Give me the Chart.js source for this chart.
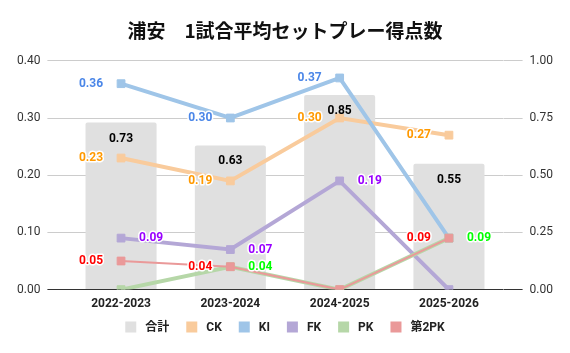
<!DOCTYPE html>
<html>
<head>
<meta charset="utf-8">
<script src="https://cdn.jsdelivr.net/npm/chart.js@4"></script>
<style>
  body { margin: 0; background: #fff; }
  #wrap { width: 570px; height: 353px; }
</style>
</head>
<body>
<div id="wrap"><canvas id="chart" width="570" height="353"></canvas></div>
<script>
const seasons = ['2022-2023', '2023-2024', '2024-2025', '2025-2026'];
const totals = [0.73, 0.63, 0.85, 0.55];
const ck = [0.23, 0.19, 0.30, 0.27];
const ki = [0.36, 0.30, 0.37, 0.09];
const fk = [0.09, 0.07, 0.19, 0.00];
const pk = [0.00, 0.04, 0.00, 0.09];
const pk2 = [0.05, 0.04, 0.00, 0.09];

const font = "Roboto, 'Noto Sans CJK JP', sans-serif";
const titleFont = "'Noto Sans CJK JP', sans-serif";

function lineSet(label, data, color, labelColor, side, width, order) {
    return {
        type: 'line',
        label: label,
        data: data,
        yAxisID: 'y',
        borderColor: color,
        backgroundColor: color,
        borderWidth: width,
        pointStyle: 'rect',
        pointRadius: 5.5,
        pointHoverRadius: 5.5,
        pointBorderWidth: 1,
        tension: 0,
        order: order,
        valueColor: labelColor, // used by the label plugin below
        valueSide: side
    };
}

// draws the value labels (no datalabels plugin available offline)
const valueLabels = {
    id: 'valueLabels',
    afterDatasetsDraw(chart) {
        const ctx = chart.ctx;
        ctx.save();
        ctx.font = "bold 12px " + font;
        ctx.textBaseline = 'middle';
        chart.data.datasets.forEach((ds, i) => {
            const meta = chart.getDatasetMeta(i);
            meta.data.forEach((el, j) => {
                const v = ds.data[j];
                if (v === 0) return;
                if (ds.label === 'KI' && j === 3) return; // hidden behind other labels
                let x = el.x, y = el.y;
                if (ds.type === 'bar') {
                    ctx.textAlign = 'center';
                    y = el.y + 16;
                } else if (ds.valueSide === 'left') {
                    ctx.textAlign = 'right';
                    x = el.x - 18;
                } else {
                    ctx.textAlign = 'left';
                    x = el.x + 18;
                }
                const txt = v.toFixed(2);
                ctx.lineWidth = 3;
                ctx.strokeStyle = '#fff';
                ctx.lineJoin = 'round';
                if (ds.type !== 'bar') ctx.strokeText(txt, x, y);
                ctx.fillStyle = ds.valueColor || '#000';
                ctx.fillText(txt, x, y);
            });
        });
        ctx.restore();
    }
};

// simple legend at the bottom, laid out by hand so spacing matches
const bottomLegend = {
    id: 'bottomLegend',
    afterDraw(chart) {
        const ctx = chart.ctx;
        const box = 11, gap = 9, space = 17, y = 327;
        ctx.save();
        ctx.font = "bold 12px " + font;
        ctx.textBaseline = 'middle';
        ctx.textAlign = 'left';
        const items = chart.data.datasets.map(ds => ({ ds, w: ctx.measureText(ds.label).width }));
        const total = items.reduce((s, it) => s + box + gap + it.w, 0) + space * (items.length - 1);
        let x = chart.width / 2 - total / 2;
        items.forEach(it => {
            ctx.fillStyle = it.ds.backgroundColor;
            ctx.fillRect(x, y - box / 2, box, box);
            ctx.fillStyle = '#222';
            ctx.fillText(it.ds.label, x + box + gap, y + 1);
            x += box + gap + it.w + space;
        });
        ctx.restore();
    }
};

new Chart(document.getElementById('chart').getContext('2d'), {
    data: {
        labels: seasons,
        datasets: [
            {
                type: 'bar',
                label: '合計',
                data: totals,
                yAxisID: 'y1',
                backgroundColor: '#e0e0e0',
                borderRadius: 2,
                barPercentage: 0.65,
                categoryPercentage: 1,
                order: 10,
                valueColor: '#000'
            },
            lineSet('CK', ck, '#f9cb9c', '#ff9900', 'left', 4, 5),
            lineSet('KI', ki, '#9fc5e8', '#4a86e8', 'left', 4, 4),
            lineSet('FK', fk, '#b4a7d6', '#9900ff', 'right', 4, 3),
            lineSet('PK', pk, '#b6d7a8', '#00ff00', 'right', 4, 2),
            lineSet('第2PK', pk2, '#ea9999', '#ff0000', 'left', 2, 1)
        ]
    },
    options: {
        responsive: false,
        animation: false,
        layout: { padding: { left: 10, right: 10, top: 0, bottom: 35 } },
        scales: {
            x: {
                grid: { display: false, drawTicks: false },
                border: { display: false },
                ticks: { color: '#222', font: { family: font, size: 12, weight: 'bold' }, padding: 7 }
            },
            y: {
                position: 'left',
                min: 0,
                max: 0.4,
                ticks: {
                    stepSize: 0.1,
                    color: '#333',
                    padding: 7,
                    font: { family: font, size: 12 },
                    callback: v => v.toFixed(2)
                },
                grid: {
                    color: c => c.tick && c.tick.value === 0 ? '#333' : '#ccc',
                    tickLength: 19
                },
                border: { display: false }
            },
            y1: {
                position: 'right',
                min: 0,
                max: 1,
                ticks: {
                    stepSize: 0.25,
                    color: '#333',
                    padding: 7,
                    font: { family: font, size: 12 },
                    callback: v => v.toFixed(2)
                },
                grid: {
                    drawOnChartArea: false,
                    color: c => c.tick && c.tick.value === 0 ? '#333' : '#ccc',
                    tickLength: 19
                },
                border: { display: false }
            }
        },
        plugins: {
            title: {
                display: true,
                text: '浦安　1試合平均セットプレー得点数',
                color: '#111',
                font: { family: titleFont, size: 19, weight: 'bold' },
                padding: { top: 19, bottom: 19 }
            },
            legend: { display: false },
            tooltip: { enabled: false }
        }
    },
    plugins: [valueLabels, bottomLegend]
});
</script>
</body>
</html>
